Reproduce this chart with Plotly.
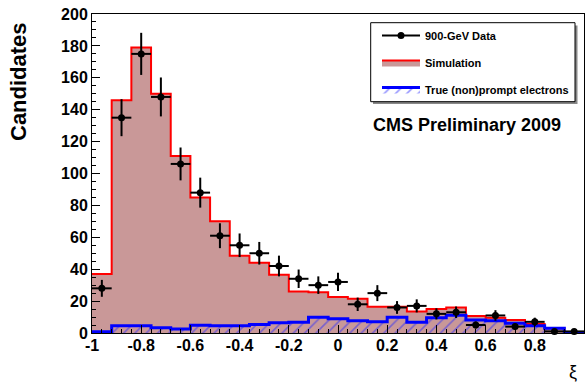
import plotly.graph_objects as go
import numpy as np

# ---- data ----
bin_edges = [-1.0, -0.92, -0.84, -0.76, -0.68, -0.60, -0.52, -0.44, -0.36, -0.28,
             -0.20, -0.12, -0.04, 0.04, 0.12, 0.20, 0.28, 0.36, 0.44, 0.52,
             0.60, 0.68, 0.76, 0.84, 0.92, 1.0]
data_counts = [28, 135, 175, 148, 106, 88, 61, 55, 50, 42, 34, 30, 32, 18, 25,
               16, 17, 12, 13, 5, 11, 4, 7, 1, 1]
data_errors = [5.3, 11.6, 13.2, 12.2, 10.3, 9.4, 7.8, 7.4, 7.1, 6.5, 5.8, 5.5, 5.7,
               4.2, 5.0, 4.0, 4.1, 3.5, 3.6, 2.2, 3.3, 2.0, 2.6, 1.0, 1.0]
sim_counts = [37, 146, 179, 150, 111, 85, 70, 48.5, 44, 36.5, 26, 25.5, 22.5, 21.5,
              16.5, 16.5, 13.5, 15, 16, 10.7, 9.6, 8.2, 5.6, 3.0, 0.5]
true_counts = [0.8, 4.6, 4.6, 3.3, 2.5, 4.8, 4.6, 4.6, 5.4, 6.5, 6.7, 9.8, 9.0, 7.7,
               7.1, 9.8, 6.7, 9.6, 11.1, 8.1, 7.7, 6.1, 4.6, 2.9, 0.3]
x_tick_vals = [-1, -0.8, -0.6, -0.4, -0.2, 0, 0.2, 0.4, 0.6, 0.8]
x_tick_text = ["-1", "-0.8", "-0.6", "-0.4", "-0.2", "0", "0.2", "0.4", "0.6", "0.8"]
y_tick_vals = [0, 20, 40, 60, 80, 100, 120, 140, 160, 180, 200]

edges = np.array(bin_edges)
centers = 0.5 * (edges[:-1] + edges[1:])

FONT = "Liberation Sans"

fig = go.Figure()

# Simulation (filled step histogram)
fig.add_trace(go.Scatter(
    x=bin_edges, y=sim_counts + [sim_counts[-1]],
    mode="lines", line=dict(shape="hv", color="#ff0000", width=2),
    fill="tozeroy", fillcolor="#c99898",
    name="Simulation", legendgroup="b", legendrank=2,
))

# True (non)prompt electrons (hatched step histogram)
fig.add_trace(go.Scatter(
    x=bin_edges, y=true_counts + [true_counts[-1]],
    mode="lines", line=dict(shape="hv", color="#0000ff", width=3),
    fill="tozeroy", fillcolor="rgba(0,0,0,0)",
    fillpattern=dict(shape="/", fgcolor="#2a2aff", bgcolor="rgba(0,0,0,0)",
                     size=8, solidity=0.2),
    name="True (non)prompt electrons", legendgroup="c", legendrank=3,
))

# Data points
fig.add_trace(go.Scatter(
    x=centers, y=data_counts, mode="markers",
    marker=dict(color="black", size=7),
    error_y=dict(type="data", array=data_errors, color="black", thickness=2, width=0),
    error_x=dict(type="constant", value=0.04, color="black", thickness=2, width=0),
    showlegend=False, cliponaxis=False,
))
# legend entry for data
fig.add_trace(go.Scatter(
    x=[None], y=[None], mode="lines+markers",
    line=dict(color="black", width=2), marker=dict(color="black", size=7),
    name="900-GeV Data", legendgroup="a", legendrank=1,
))

axis_common = dict(
    showline=True, linecolor="black", linewidth=1, mirror=True,
    ticks="inside", tickcolor="black", ticklen=8, tickwidth=1,
    showgrid=False, zeroline=False,
    tickfont=dict(family=FONT, size=16, color="black", weight="bold"),
)

fig.update_xaxes(range=[-1, 1], tickvals=x_tick_vals, ticktext=x_tick_text,
                 ticklabelstandoff=-2,
                 minor=dict(dtick=0.04, ticks="inside", ticklen=4, tickcolor="black"),
                 **axis_common)
fig.update_yaxes(range=[0, 200], tickvals=y_tick_vals,
                 minor=dict(dtick=5, ticks="inside", ticklen=4, tickcolor="black"),
                 **axis_common)

# legend box with shadow
fig.add_shape(type="rect", xref="paper", yref="paper",
              x0=(373 - 92) / 492, x1=(577.5 - 92) / 492,
              y0=(333 - 104) / 319, y1=(333 - 25.5) / 319,
              line=dict(width=0), fillcolor="#888888", layer="above")
fig.add_shape(type="rect", xref="paper", yref="paper",
              x0=(370.7 - 92) / 492, x1=(575 - 92) / 492,
              y0=(333 - 101.7) / 319, y1=(333 - 22.7) / 319,
              line=dict(width=1, color="black"), fillcolor="white", layer="above")

fig.update_layout(
    width=585, height=385,
    margin=dict(l=92, r=1, t=14, b=52),
    plot_bgcolor="white", paper_bgcolor="white",
    legend=dict(x=(377 - 92) / 492, y=(333 - 21) / 319, xanchor="left", yanchor="top",
                bgcolor="rgba(0,0,0,0)", borderwidth=0,
                font=dict(family=FONT, size=11, color="black", weight="bold"),
                traceorder="grouped", tracegroupgap=8, itemwidth=38),
    annotations=[
        dict(text="Candidates", xref="paper", yref="paper",
             x=(18 - 92) / 492, y=(333 - 82) / 319, textangle=-90, showarrow=False,
             xanchor="center", yanchor="middle",
             font=dict(family=FONT, size=22, color="black", weight="bold")),
        dict(text="ξ", xref="paper", yref="paper",
             x=(573 - 92) / 492, y=(333 - 372) / 319, showarrow=False,
             xanchor="center", yanchor="middle",
             font=dict(family=FONT, size=18, color="black")),
        dict(text="CMS Preliminary 2009", xref="paper", yref="paper",
             x=(371 - 92) / 492, y=(333 - 125) / 319, showarrow=False,
             xanchor="left", yanchor="middle",
             font=dict(family=FONT, size=18, color="black", weight="bold")),
    ],
)

fig.write_html("out.html")
